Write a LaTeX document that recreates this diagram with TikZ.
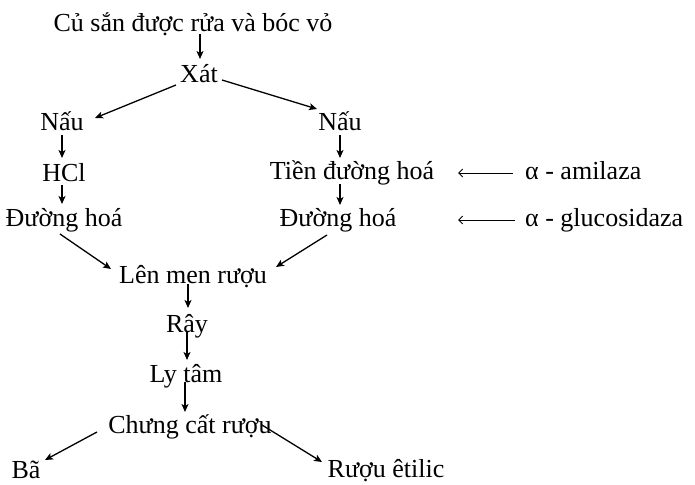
\documentclass[tikz,border=0pt]{standalone}
\usepackage{fontspec}
\setmainfont{Liberation Serif}
\usetikzlibrary{arrows.meta,calc}
\tikzset{
  lbl/.style={inner sep=0pt, anchor=base, font=\fontsize{26}{30}\selectfont},
  lblw/.style={lbl, anchor=base west},
  arr/.style={line width=1.3pt, -{Stealth[length=8pt,width=7pt,inset=2pt]}},
  enz/.style={line width=1pt, -{Straight Barb[length=4pt,width=8pt]}}
}
\begin{document}
\begin{tikzpicture}[x={(1pt,0)}, y={(0,-1pt)}]
\useasboundingbox (0,0) rectangle (695,484);

% process steps, placed by baseline
\node[lbl] (cu)     at (193,32)  {Củ sắn được rửa và bóc vỏ};
\node[lbl] (xat)    at (199,83)  {Xát};
\node[lbl] (naul)   at (62,130)  {Nấu};
\node[lbl] (naur)   at (340,130) {Nấu};
\node[lbl] (hcl)    at (64,181)  {HCl};
\node[lbl] (tien)   at (352,179) {Tiền đường hoá};
\node[lblw] (amil)  at (525,179) {α - amilaza};
\node[lbl] (duongl) at (64,226)  {Đường hoá};
\node[lbl] (duongr) at (338,226) {Đường hoá};
\node[lblw] (gluc)  at (525,226) {α - glucosidaza};
\node[lbl] (len)    at (193,283) {Lên men rượu};
\node[lbl] (ray)    at (187,332) {Rây};
\node[lbl] (ly)     at (186,382) {Ly tâm};
\node[lbl] (chung)  at (190,433) {Chưng cất rượu};
\node[lbl] (ba)     at (26,478)  {Bã};
\node[lbl] (ruou)   at (386,477) {Rượu êtilic};

% main flow
\draw[arr] ($(cu.base -| xat.base)+(1,2)$) -- ($(xat.base)+(1,-24)$);
\draw[arr] ($(xat.base)+(-23,2)$) -- ($(naul.base)+(33,-12)$);
\draw[arr] ($(xat.base)+(23,-3)$) -- ($(naur.base)+(-23,-21)$);
\draw[arr] ($(naul.base)+(0,5)$) -- ($(naul.base |- hcl.base)+(0,-23)$);
\draw[arr] ($(naur.base)+(0,5)$) -- ($(naur.base |- tien.base)+(0,-21)$);
\draw[arr] ($(hcl.base)+(-2,4)$) -- ($(hcl.base -| naul.base)+(0,23)$);
\draw[arr] ($(naur.base |- tien.base)+(0,5)$) -- ($(naur.base |- duongr.base)+(0,-21)$);
\draw[arr] ($(duongl.base)+(-4,8)$) -- ($(len.base)+(-82,-14)$);
\draw[arr] ($(duongr.base)+(-11,9)$) -- ($(len.base)+(83,-16)$);
\draw[arr] ($(len.base)+(-5,1)$) -- ($(len.base)+(-5,25)$);
\draw[arr] ($(ray.base)+(0,0)$) -- ($(ray.base)+(0,28)$);
\draw[arr] ($(ly.base)+(-1,0)$) -- ($(ly.base)+(-1,30)$);
\draw[arr] ($(chung.base)+(-93,-1)$) -- ($(ba.base)+(19,-18)$);
\draw[arr] ($(chung.base)+(72,-8)$) -- ($(ruou.base)+(-64,-15)$);

% enzymes
\draw[enz] ($(amil.base west)+(-12,-6)$) -- ($(amil.base west)+(-67,-6)$);
\draw[enz] ($(gluc.base west)+(-10,-6)$) -- ($(gluc.base west)+(-67,-6)$);
\end{tikzpicture}
\end{document}
